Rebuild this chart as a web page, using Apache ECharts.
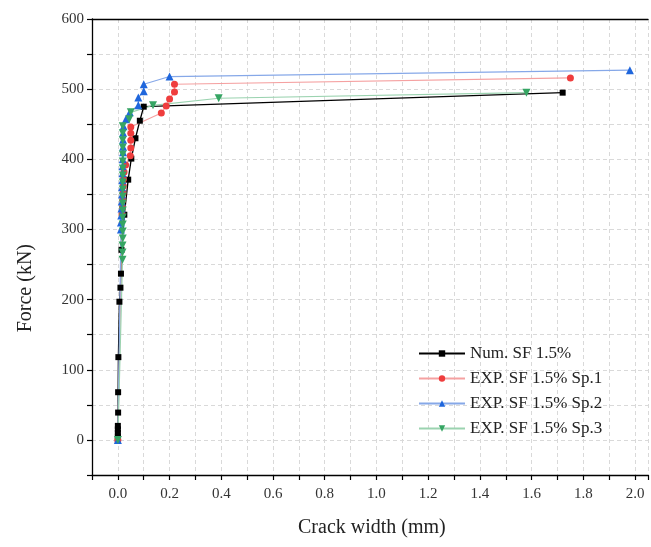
<!DOCTYPE html>
<html>
<head>
<meta charset="utf-8">
<script src="https://cdn.jsdelivr.net/npm/echarts@6/dist/echarts.min.js"></script>
<style>
html,body{margin:0;padding:0;background:#fff;}
#chart{width:651px;height:547px;}
</style>
</head>
<body>
<div id="chart"></div>
<script>
// Num. SF 1.5%
const numX = [0,0,0,0,0,0.001,0.001,0.002,0.006,0.01,0.012,0.014,0.025,0.04,0.052,0.068,0.085,0.1,1.72];
const numY = [0,5,10,15,20,39,68,118,197,217,237,271,321,371,401,430,455,475,495];
// EXP. SF 1.5% Sp.1
const sp1X = [0,0.016,0.018,0.019,0.02,0.021,0.022,0.024,0.03,0.048,0.05,0.05,0.05,0.05,0.168,0.187,0.2,0.219,0.219,1.75];
const sp1Y = [0,322,332,342,352,362,372,382,392,405,416,427,437,446,466,476,486,496,507,516];
// EXP. SF 1.5% Sp.2
const sp2X = [0,0.012,0.012,0.013,0.014,0.015,0.016,0.016,0.017,0.018,0.018,0.019,0.02,0.02,0.02,0.02,0.022,0.031,0.046,0.079,0.079,0.1,0.1,0.2,1.98];
const sp2Y = [0,300,310,320,330,340,350,360,370,380,390,400,410,418,428,438,447,457,467,477,488,497,507,518,527];
// EXP. SF 1.5% Sp.3
const sp3X = [0,0.018,0.018,0.018,0.019,0.019,0.019,0.019,0.019,0.019,0.019,0.019,0.019,0.019,0.019,0.019,0.019,0.019,0.019,0.019,0.019,0.044,0.05,0.136,0.39,1.58];
const sp3Y = [0,257,267,277,287,297,307,317,327,337,347,357,367,377,387,397,407,417,427,437,447,457,467,477,487,495];

const seriesNames = ['Num. SF 1.5%','EXP. SF 1.5% Sp.1','EXP. SF 1.5% Sp.2','EXP. SF 1.5% Sp.3'];

const zip = (xs, ys) => xs.map((x, i) => [x, ys[i]]);
const FONT = 'Liberation Serif';

const chart = echarts.init(document.getElementById('chart'), null, {renderer: 'canvas'});
const gridLine = {show: true, lineStyle: {color: '#d9d9d9', type: [4, 3], width: 1}};

chart.setOption({
  animation: false,
  backgroundColor: '#fff',
  grid: {left: 92, right: 0, top: 19, bottom: 72, containLabel: false},
  xAxis: [{
    type: 'value', min: -0.1, max: 2.05, interval: 0.1,
    axisLine: {show: true, onZero: false, lineStyle: {color: '#000', width: 1.3}},
    axisTick: {show: true, inside: false, length: 5, lineStyle: {color: '#000', width: 1.2}},
    axisLabel: {
      color: '#333', fontFamily: FONT, fontSize: 15, margin: 12,
      formatter: v => { const r = Math.round(v * 10); return (r >= 0 && r % 2 === 0 && Math.abs(v*10 - r) < 1e-6) ? (r / 10).toFixed(1) : ''; }
    },
    splitLine: gridLine
  }, {
    type: 'value', position: 'top', min: -0.1, max: 2.05,
    axisLine: {show: true, onZero: false, lineStyle: {color: '#000', width: 1.3}},
    axisTick: {show: false}, axisLabel: {show: false}, splitLine: {show: false}
  }],
  yAxis: {
    type: 'value', min: -50, max: 600, interval: 50,
    axisLine: {show: true, onZero: false, lineStyle: {color: '#000', width: 1.3}},
    axisTick: {show: true, length: 5, lineStyle: {color: '#000', width: 1.2}},
    axisLabel: {
      color: '#333', fontFamily: FONT, fontSize: 15, margin: 8,
      formatter: v => (v >= 0 && v % 100 === 0) ? String(v) : ''
    },
    splitLine: gridLine
  },
  legend: {
    orient: 'vertical', left: 418, top: 345, padding: 0, itemWidth: 46, itemHeight: 8, itemGap: 8,
    textStyle: {fontFamily: FONT, fontSize: 17, color: '#222'},
    data: seriesNames
  },
  graphic: [
    {type: 'text', left: 16, top: 244, rotation: Math.PI / 2,
     style: {text: 'Force (kN)', fontFamily: FONT, fontSize: 20, fill: '#222'}},
    {type: 'text', left: 298, top: 518,
     style: {text: 'Crack width (mm)', fontFamily: FONT, fontSize: 20, fill: '#222'}}
  ],
  series: [
    {name: seriesNames[0], type: 'line', data: zip(numX, numY), symbol: 'rect', symbolSize: 6,
     itemStyle: {color: '#000'}, lineStyle: {color: '#000', width: 1.3}},
    {name: seriesNames[1], type: 'line', data: zip(sp1X, sp1Y), symbol: 'circle', symbolSize: 7,
     itemStyle: {color: '#ef3d3d'}, lineStyle: {color: '#f5a1a1', width: 1.2}},
    {name: seriesNames[2], type: 'line', data: zip(sp2X, sp2Y), symbol: 'triangle', symbolSize: 8,
     itemStyle: {color: '#1f66dc'}, lineStyle: {color: '#86a8e8', width: 1.2}},
    {name: seriesNames[3], type: 'line', data: zip(sp3X, sp3Y), symbol: 'triangle', symbolRotate: 180, symbolSize: 8,
     itemStyle: {color: '#35a563'}, lineStyle: {color: '#9bd3b0', width: 1.2}}
  ]
});
</script>
</body>
</html>
